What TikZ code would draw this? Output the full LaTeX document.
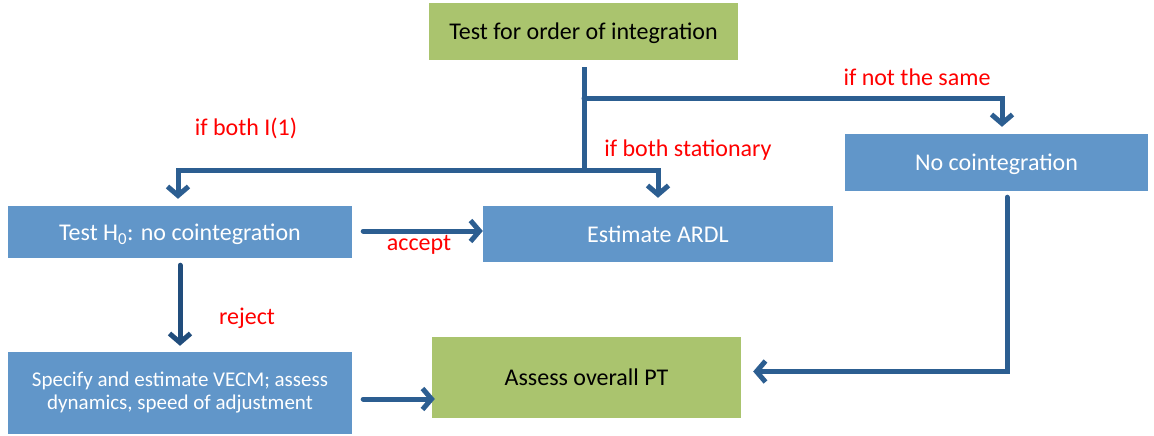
\documentclass[tikz,border=0pt]{standalone}
\usepackage{fontspec}
\setmainfont{Carlito}
\usetikzlibrary{arrows.meta}
\definecolor{boxblue}{HTML}{6196C9}
\definecolor{boxgreen}{HTML}{AAC46E}
\definecolor{linecol}{HTML}{2C5E91}
\definecolor{linedark}{HTML}{214D7C}
\definecolor{lblred}{HTML}{FF0000}
\begin{document}
\begin{tikzpicture}[x=1pt,y=-1pt,
  basebox/.style={inner sep=0pt, align=center, font=\fontsize{24}{29}\selectfont},
  oneline/.style={text depth=0pt},
  bluebox/.style={basebox, fill=boxblue, text=white},
  greenbox/.style={basebox, fill=boxgreen, text=black},
  conn/.style={draw=linecol, line width=5pt, line cap=round, line join=miter,
    -{Straight Barb[length=9pt,width=21pt,line width=5pt]}},
  plain/.style={draw=linecol, line width=5pt},
  lbl/.style={text=lblred, inner sep=0pt, font=\fontsize{24}{29}\selectfont}]
\useasboundingbox (0,0) rectangle (1154,436);
% boxes
\node[greenbox, oneline, minimum width=309pt, minimum height=57pt] (top) at (583.5,31.5) {Test for order of integration};
\node[bluebox, oneline, minimum width=344pt, minimum height=52pt] (h0) at (180,232) {Test H\textsubscript{0}: no cointegration};
\node[bluebox, oneline, minimum width=350pt, minimum height=56pt] (ardl) at (658,234) {Estimate ARDL};
\node[bluebox, oneline, minimum width=303pt, minimum height=57pt] (noco) at (996.5,162.5) {No cointegration};
\node[bluebox, minimum width=344pt, minimum height=82pt, font=\fontsize{21}{23}\selectfont] (vecm) at (180,393) {Specify and estimate VECM; assess\\dynamics, speed of adjustment};
\node[greenbox, oneline, minimum width=309pt, minimum height=81pt] (pt) at (586.5,377.5) {Assess overall PT};
% connectors
\coordinate (J) at (584,170);
\draw[plain] ([xshift=0.5pt,yshift=-7pt]top.south) -- ([yshift=-2.5pt]J);
\draw[conn] ([xshift=0.5pt,yshift=-38pt]top.south) -| ([xshift=5.5pt,yshift=7pt]noco.north);
\draw[conn] ([xshift=2.5pt]J) -| ([xshift=-2pt,yshift=7pt]h0.north);
\draw[conn] ([xshift=-2.5pt]J) -| ([yshift=8pt]ardl.north);
\draw[conn] ([xshift=11pt,yshift=1pt]h0.east) coordinate (a1) -- (ardl.west |- a1);
\draw[conn, draw=linedark] ([yshift=-7pt]h0.south) -- ([yshift=6pt]vecm.north);
\draw[conn] ([xshift=11pt,yshift=-6pt]vecm.east) coordinate (a2) -- ([xshift=3pt]pt.west |- a2);
\draw[conn] ([xshift=10.5pt,yshift=-6pt]noco.south) |- ([xshift=12pt,yshift=6pt]pt.east);
% labels
\node[lbl] (l1) at (246,128) {if both I(1)};
\node[lbl] (l2) at (688,150) {if both stationary};
\node[lbl] (l3) at (917,77) {if not the same};
\node[lbl] (l4) at (419,245) {accept};
\node[lbl] (l5) at (247,318) {reject};
\end{tikzpicture}
\end{document}
